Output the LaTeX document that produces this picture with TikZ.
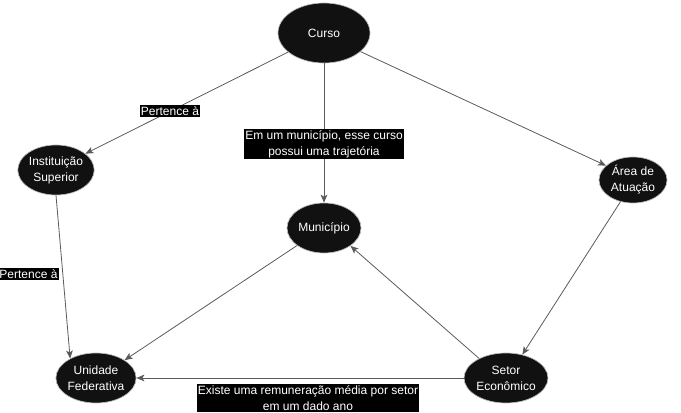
\documentclass[tikz,border=0pt]{standalone}
\usepackage{fontspec}
\setmainfont{Liberation Sans}
\usetikzlibrary{arrows.meta,shapes.geometric}
\definecolor{nodefill}{HTML}{111111}
\definecolor{edgegray}{HTML}{5A5A5A}
\begin{document}
\begin{tikzpicture}[x=0.75pt,y=-0.75pt,
  ent/.style={ellipse,fill=nodefill,draw=gray!55,line width=0.5pt,text=white,
    font=\fontsize{9}{12}\selectfont,align=center,inner sep=0pt},
  lbl/.style={fill=black,text=white,font=\fontsize{9}{12}\selectfont,align=center,inner sep=1pt},
  conn/.style={draw=edgegray,line width=0.6pt,-{Stealth[length=6pt,width=5pt,inset=1.5pt]}}]
\useasboundingbox (0,0) rectangle (681,413);
\node[ent,minimum width=69pt,minimum height=45pt] (curso) at (324,33) {Curso};
\node[ent,minimum width=57pt,minimum height=37.5pt] (inst) at (56,170) {Instituição\\Superior};
\node[ent,minimum width=51pt,minimum height=34.5pt] (area) at (633,180) {Área de\\Atuação};
\node[ent,minimum width=55.5pt,minimum height=37.5pt] (mun) at (324,228) {Município};
\node[ent,minimum width=57pt,minimum height=37.5pt] (uf) at (96,378) {Unidade\\Federativa};
\node[ent,minimum width=57pt,minimum height=37.5pt] (setor) at (506,378) {Setor\\Econômico};

\draw[conn] (curso.208) -- (inst.29);
\draw[conn] (curso.south) -- (mun.north);
\draw[conn] (curso.333) -- (area.152);
\draw[conn] (inst.south) -- (uf.143);
\draw[conn] (mun.213) -- (uf.32);
\draw[conn] (area.240) -- (setor.55);
\draw[conn] (setor.144) -- (mun.326);
\draw[conn] (setor.west) -- (uf.east);

\node[lbl] (l1) at (170,111) {Pertence à};
\node[lbl] (l2) at (324,144) {Em um município, esse curso\\possui uma trajetória};
\node[lbl] (l3) at (28.5,274) {Pertence à};
\node[lbl] (l4) at (308,398) {Existe uma remuneração média por setor\\em um dado ano};
\end{tikzpicture}
\end{document}
